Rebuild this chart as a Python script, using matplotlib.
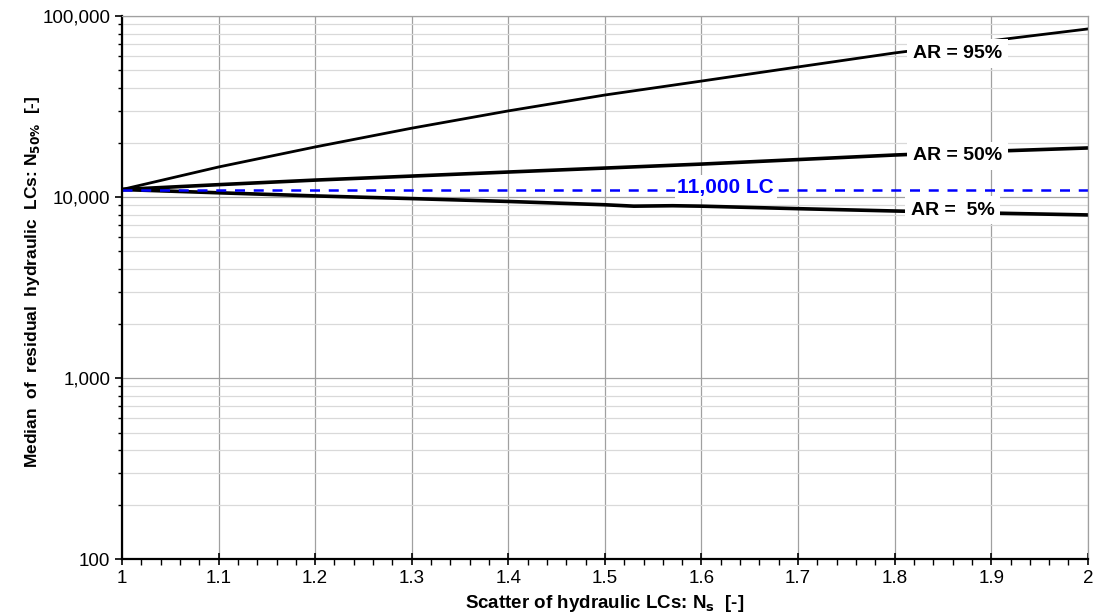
import matplotlib.pyplot as plt
from matplotlib.ticker import FuncFormatter, LogLocator, MultipleLocator

plt.rcParams['font.family'] = ['Liberation Sans', 'DejaVu Sans']

# Streuung der hydraulischen Lastwechsel
ns_95 = [1.0, 1.1, 1.2, 1.3, 1.4, 1.5, 1.6, 1.7, 1.8, 1.9, 2.0]
n_95 = [11000, 14650, 18900, 24000, 29900, 36600, 43700, 52300, 62500, 73000, 84800]

ns_50 = [1.0, 1.1, 1.2, 1.3, 1.4, 1.5, 1.6, 1.7, 1.8, 1.9, 2.0]
n_50 = [11000, 11700, 12400, 13050, 13740, 14450, 15200, 16100, 17060, 17900, 18660]

ns_5 = [1.0, 1.1, 1.2, 1.3, 1.4, 1.5, 1.53, 1.57, 1.6, 1.7, 1.8, 1.9, 2.0]
n_5 = [11000, 10550, 10140, 9800, 9450, 9060, 8900, 8950, 8900, 8620, 8370, 8150, 7960]

ref_n = 11000
labels = ['AR = 95%', 'AR = 50%', 'AR =  5%']
label_x = [1.865, 1.865, 1.86]
label_y = [62000, 16900, 8450]

fig = plt.figure(figsize=(11.01, 6.15), dpi=100)
ax = fig.add_axes([0.1108, 0.091, 0.8772, 0.883])

ax.plot(ns_95, n_95, color='black', lw=2)
ax.plot(ns_50, n_50, color='black', lw=2.6)
ax.plot(ns_5, n_5, color='black', lw=2.6)
ax.axhline(ref_n, color='#0000ff', lw=1.8, ls=(0, (4, 3.5)))

for t, x, y in zip(labels, label_x, label_y):
    ax.text(x, y, t, fontsize=14, fontweight='bold', ha='center', va='center',
            bbox=dict(facecolor='white', edgecolor='none', pad=4), zorder=5)
ax.text(1.625, ref_n * 1.03, '11,000 LC', color='#0000ff', fontsize=15, fontweight='bold',
        ha='center', va='center', bbox=dict(facecolor='white', edgecolor='none', pad=2), zorder=5)

ax.set_yscale('log')
ax.set_xlim(1, 2)
ax.set_ylim(100, 100000)
ax.xaxis.set_major_locator(MultipleLocator(0.1))
ax.xaxis.set_minor_locator(MultipleLocator(0.02))
ax.xaxis.set_major_formatter(FuncFormatter(lambda v, p: '{:g}'.format(round(v, 1))))
ax.yaxis.set_major_locator(LogLocator(base=10, numticks=10))
ax.yaxis.set_minor_locator(LogLocator(base=10, subs=range(2, 10), numticks=10))
ax.yaxis.set_major_formatter(FuncFormatter(lambda v, p: '{:,.0f}'.format(v)))

ax.grid(True, which='major', color='#a0a0a0', lw=0.9)
ax.grid(True, which='minor', axis='y', color='#d9d9d9', lw=0.9)
ax.set_axisbelow(True)

ax.tick_params(axis='x', which='major', direction='inout', length=8, width=1.2, labelsize=13.5, pad=4)
ax.tick_params(axis='x', which='minor', direction='out', length=4, width=1)
ax.tick_params(axis='y', which='major', direction='out', length=5, width=1.2, labelsize=13.5)
ax.tick_params(axis='y', which='minor', direction='out', length=3, width=1)

for s in ['left', 'bottom']:
    ax.spines[s].set_linewidth(1.6)
for s in ['top', 'right']:
    ax.spines[s].set_color('#a0a0a0')
    ax.spines[s].set_linewidth(0.9)

ax.set_xlabel('Scatter of hydraulic LCs: N$_\\mathbf{s}$  [-]', fontsize=13.5, fontweight='bold', labelpad=4)
ax.set_ylabel('Median  of  residual  hydraulic  LCs: N$_\\mathbf{50\\%}$  [-]', fontsize=12.5,
              fontweight='bold')
ax.yaxis.set_label_coords(-0.083, 0.51)

fig.savefig('out.png', dpi=100)
